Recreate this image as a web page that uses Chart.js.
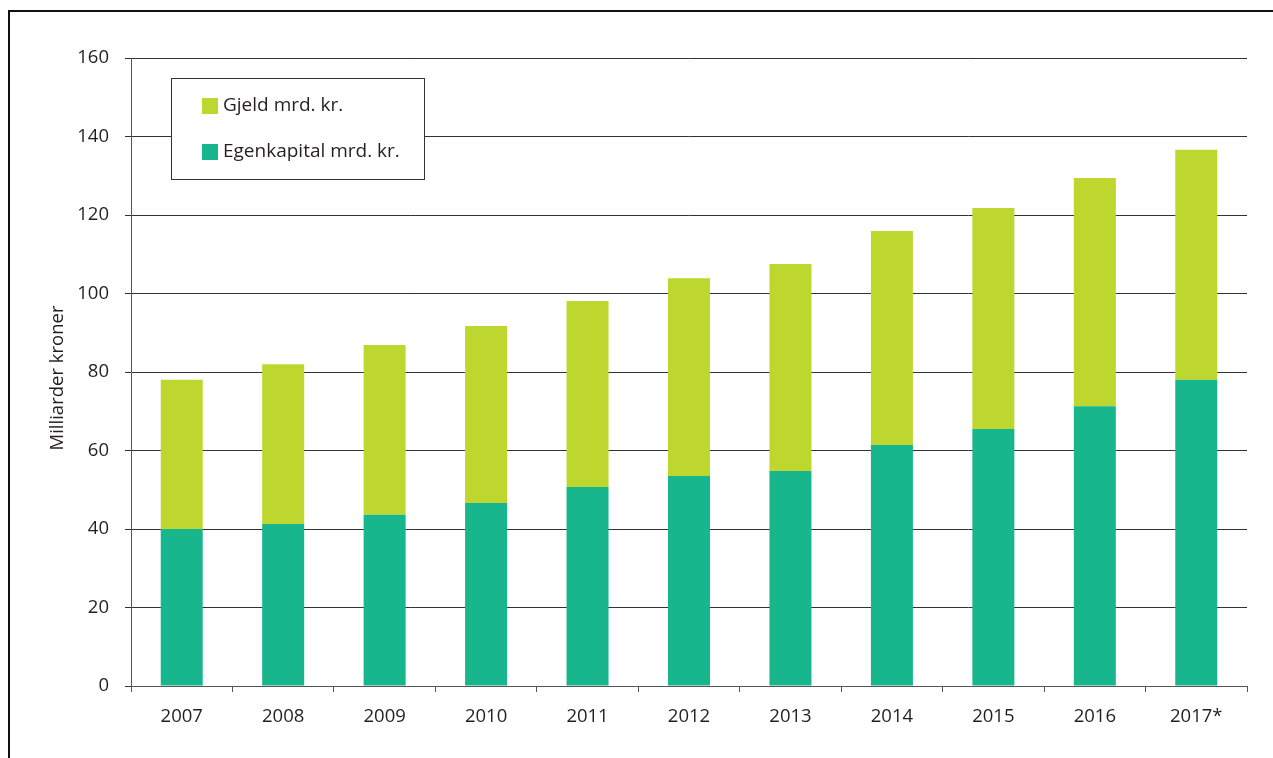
<!DOCTYPE html>
<html>
<head>
<meta charset="utf-8">
<script src="https://cdn.jsdelivr.net/npm/chart.js@4/dist/chart.umd.min.js"></script>
<style>
  html, body { margin: 0; padding: 0; background: #fff; }
  #wrap { position: relative; width: 1273px; height: 758px; overflow: hidden; }
  #frame { position: absolute; left: 8px; top: 10px; width: 1300px; height: 800px;
           border-left: 2px solid #111; border-top: 2px solid #111; box-sizing: border-box; }
  canvas { position: absolute; left: 0; top: 0; }
</style>
</head>
<body>
<div id="wrap">
  <div id="frame"></div>
  <canvas id="chart" width="1273" height="758"></canvas>
</div>
<script>
// Years shown on the x axis
const years = ['2007', '2008', '2009', '2010', '2011', '2012', '2013', '2014', '2015', '2016', '2017*'];
// Equity, billion NOK
const egenkapital = [40.0, 41.3, 43.6, 46.6, 50.7, 53.5, 54.8, 61.4, 65.5, 71.3, 78.0];
// Debt, billion NOK
const gjeld = [38.0, 40.7, 43.3, 45.1, 47.4, 50.4, 52.7, 54.5, 56.3, 58.1, 58.6];
// Y axis tick values
const yTicks = [0, 20, 40, 60, 80, 100, 120, 140, 160];
const yTitle = 'Milliarder kroner';

const TEXT = '#231f20';
const FONT = "'Open Sans', 'Liberation Sans', sans-serif";
const SIZE = 18.5;

// Boxed legend inside the plot area, plus the rotated y axis title
const boxLegend = {
  id: 'boxLegend',
  afterDraw(chart) {
    const ctx = chart.ctx;
    const area = chart.chartArea;
    ctx.save();
    // y axis title
    ctx.translate(58, (area.top + area.bottom) / 2 + 6);
    ctx.rotate(-Math.PI / 2);
    ctx.font = SIZE + 'px ' + FONT;
    ctx.fillStyle = TEXT;
    ctx.textAlign = 'center';
    ctx.textBaseline = 'middle';
    ctx.fillText(yTitle, 0, 0);
    ctx.restore();

    ctx.save();
    const x = 171.5, y = 78.5, w = 253, h = 101;
    ctx.fillStyle = '#fff';
    ctx.fillRect(x, y, w, h);
    ctx.strokeStyle = '#333';
    ctx.lineWidth = 1;
    ctx.strokeRect(x, y, w, h);
    const items = [chart.data.datasets[1], chart.data.datasets[0]];
    ctx.font = '19px ' + FONT;
    ctx.textBaseline = 'middle';
    items.forEach((ds, i) => {
      const cy = 106 + i * 46;
      ctx.fillStyle = ds.backgroundColor;
      ctx.fillRect(202, cy - 8, 16, 16);
      ctx.fillStyle = TEXT;
      ctx.fillText(ds.label, 223, cy);
    });
    ctx.restore();
  }
};

new Chart(document.getElementById('chart'), {
  type: 'bar',
  data: {
    labels: years,
    datasets: [
      { label: 'Egenkapital mrd. kr.', data: egenkapital, backgroundColor: '#17b68d',
        categoryPercentage: 1, barPercentage: 0.414 },
      { label: 'Gjeld mrd. kr.', data: gjeld, backgroundColor: '#bed72f',
        categoryPercentage: 1, barPercentage: 0.414 }
    ]
  },
  options: {
    responsive: false,
    animation: false,
    devicePixelRatio: 1,
    layout: { padding: { left: 0, top: 58, right: 26, bottom: 0 } },
    plugins: { legend: { display: false }, tooltip: { enabled: false } },
    scales: {
      x: {
        stacked: true,
        afterFit(s) { s.height = 72; },
        grid: { offset: true, drawOnChartArea: false, drawTicks: true, tickLength: 6, color: '#555' },
        border: { color: '#555', width: 1 },
        ticks: { color: TEXT, font: { family: FONT, size: SIZE }, padding: 14, maxRotation: 0 }
      },
      y: {
        stacked: true,
        min: 0, max: 160,
        afterFit(s) { s.width = 131; },
        afterBuildTicks(s) { s.ticks = yTicks.map(v => ({ value: v })); },
        grid: { color: '#333', lineWidth: 1, tickLength: 6, drawTicks: true },
        border: { color: '#555', width: 1 },
        ticks: { color: TEXT, font: { family: FONT, size: SIZE }, padding: 16 }
      }
    }
  },
  plugins: [boxLegend]
});
</script>
</body>
</html>
